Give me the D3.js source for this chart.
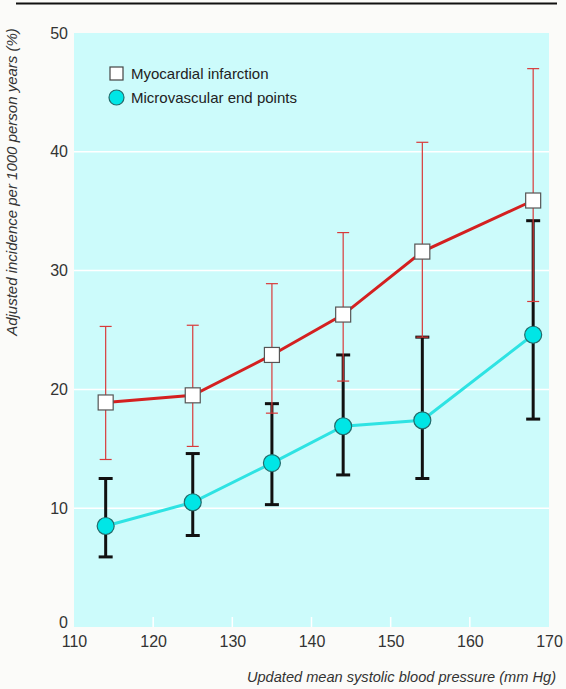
<!DOCTYPE html>
<html>
<head>
<meta charset="utf-8">
<script src="https://cdn.jsdelivr.net/npm/d3@7"></script>
<style>
  body { margin: 0; background: #fbfbf9; }
  svg { display: block; font-family: "Liberation Sans", Arial, sans-serif; }
</style>
</head>
<body>
<svg id="chart" width="566" height="689"></svg>
<script>
// data
var pressure = [114, 125, 135, 144, 154, 168];

var mi_value = [18.9, 19.5, 22.9, 26.3, 31.6, 35.9];
var mi_upper = [25.3, 25.4, 28.9, 33.2, 40.8, 47.0];
var mi_lower = [14.1, 15.2, 18.0, 20.7, 24.4, 27.4];

var mv_value = [8.5, 10.5, 13.8, 16.9, 17.4, 24.6];
var mv_upper = [12.5, 14.6, 18.8, 22.9, 24.4, 34.2];
var mv_lower = [5.9, 7.7, 10.3, 12.8, 12.5, 17.5];

var x_ticks = [110, 120, 130, 140, 150, 160, 170];
var y_ticks = [0, 10, 20, 30, 40, 50];

var svg = d3.select("#chart");

var xscale = d3.scaleLinear().domain([110, 170]).range([74, 549]);
var yscale = d3.scaleLinear().domain([0, 50]).range([627, 33]);

// top rule
svg.append("line")
    .attr("x1", 16).attr("x2", 557)
    .attr("y1", 3.5).attr("y2", 3.5)
    .attr("stroke", "#111").attr("stroke-width", 2);

// plot background
svg.append("rect")
    .attr("x", xscale(110)).attr("y", yscale(50))
    .attr("width", xscale(170) - xscale(110))
    .attr("height", yscale(0) - yscale(50))
    .attr("fill", "#ccfbfb");

// white gridlines
svg.append("g")
    .selectAll("line")
    .data(y_ticks.filter(d => d > 0 && d < 50))
    .join("line")
    .attr("x1", xscale(110)).attr("x2", xscale(170))
    .attr("y1", d => yscale(d)).attr("y2", d => yscale(d))
    .attr("stroke", "#ffffff").attr("stroke-width", 1.5);

// white x ticks inside the plot
svg.append("g")
    .selectAll("line")
    .data(x_ticks.slice(1, -1))
    .join("line")
    .attr("x1", d => xscale(d)).attr("x2", d => xscale(d))
    .attr("y1", yscale(0)).attr("y2", yscale(0) - 10)
    .attr("stroke", "#ffffff").attr("stroke-width", 1.5);

// axes (labels only)
var xaxis = svg.append("g")
    .attr("transform", "translate(0," + (yscale(0) + 9) + ")")
    .call(d3.axisBottom(xscale).tickValues(x_ticks).tickSize(0).tickPadding(0));
xaxis.select(".domain").remove();
xaxis.selectAll("text")
    .attr("font-size", 16).attr("fill", "#333").attr("font-family", null);

var yaxis = svg.append("g")
    .attr("transform", "translate(" + (xscale(110) - 6) + ",0)")
    .call(d3.axisLeft(yscale).tickValues(y_ticks).tickSize(0).tickPadding(0));
yaxis.select(".domain").remove();
yaxis.selectAll("text")
    .attr("font-size", 16).attr("fill", "#333").attr("font-family", null)
    .attr("dy", d => d == 0 ? "0em" : "0.32em");

// axis titles
svg.append("text")
    .attr("transform", "rotate(-90)")
    .attr("x", -182).attr("y", 17)
    .attr("text-anchor", "middle")
    .attr("font-size", 15).attr("font-style", "italic").attr("fill", "#333")
    .text("Adjusted incidence per 1000 person years (%)");

svg.append("text")
    .attr("x", 556).attr("y", 682)
    .attr("text-anchor", "end")
    .attr("font-size", 14.6).attr("font-style", "italic").attr("fill", "#333")
    .text("Updated mean systolic blood pressure (mm Hg)");

function error_bars(upper, lower, colour, width, cap) {
    var g = svg.append("g");
    pressure.forEach(function(p, i) {
        var cx = xscale(p);
        g.append("line")
            .attr("x1", cx).attr("x2", cx)
            .attr("y1", yscale(upper[i])).attr("y2", yscale(lower[i]))
            .attr("stroke", colour).attr("stroke-width", width);
        [upper[i], lower[i]].forEach(function(v) {
            g.append("line")
                .attr("x1", cx - cap).attr("x2", cx + cap)
                .attr("y1", yscale(v)).attr("y2", yscale(v))
                .attr("stroke", colour).attr("stroke-width", width);
        });
    });
}

// red thin bars for myocardial infarction, bold black for microvascular
error_bars(mv_upper, mv_lower, "#111", 3, 7);
error_bars(mi_upper, mi_lower, "#d83a3a", 1.2, 6);

// lines
svg.append("path")
    .datum(mi_value)
    .attr("fill", "none").attr("stroke", "#d42020").attr("stroke-width", 3)
    .attr("d", d3.line().x((d, i) => xscale(pressure[i])).y(d => yscale(d)));

svg.append("path")
    .datum(mv_value)
    .attr("fill", "none").attr("stroke", "#2ee3e3").attr("stroke-width", 3)
    .attr("d", d3.line().x((d, i) => xscale(pressure[i])).y(d => yscale(d)));

// markers
svg.append("g")
    .selectAll("rect")
    .data(mi_value)
    .join("rect")
    .attr("x", (d, i) => xscale(pressure[i]) - 7.5)
    .attr("y", d => yscale(d) - 7.5)
    .attr("width", 15).attr("height", 15)
    .attr("fill", "#ffffff").attr("stroke", "#555").attr("stroke-width", 1.2);

svg.append("g")
    .selectAll("circle")
    .data(mv_value)
    .join("circle")
    .attr("cx", (d, i) => xscale(pressure[i]))
    .attr("cy", d => yscale(d))
    .attr("r", 8.5)
    .attr("fill", "#00e6e6").attr("stroke", "#236b6b").attr("stroke-width", 1.2);

// legend
var legend = svg.append("g");
legend.append("rect")
    .attr("x", 110).attr("y", 67).attr("width", 13).attr("height", 13)
    .attr("fill", "#ffffff").attr("stroke", "#444").attr("stroke-width", 1.2);
legend.append("text")
    .attr("x", 131).attr("y", 79)
    .attr("font-size", 15).attr("fill", "#222")
    .text("Myocardial infarction");
legend.append("circle")
    .attr("cx", 116.5).attr("cy", 97.5).attr("r", 7.5)
    .attr("fill", "#00e6e6").attr("stroke", "#236b6b").attr("stroke-width", 1.2);
legend.append("text")
    .attr("x", 131).attr("y", 103)
    .attr("font-size", 15).attr("fill", "#222")
    .text("Microvascular end points");
</script>
</body>
</html>
